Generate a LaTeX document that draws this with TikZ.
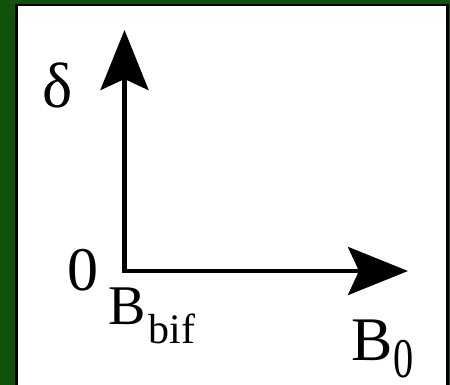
\documentclass[tikz,border=0pt]{standalone}
\usepackage{fontspec}
\setmainfont{Liberation Serif}
\usetikzlibrary{arrows.meta}
\definecolor{framegreen}{RGB}{16,82,12}
\begin{document}
\begin{tikzpicture}[x=1pt,y=-1pt,
  axis/.style={line width=4.5pt,-{Stealth[length=60pt,width=48pt,inset=11pt]}},
  lbl/.style={inner sep=0pt,anchor=base west}]
\useasboundingbox (0,0) rectangle (450,385);
\fill[framegreen] (0,0) rectangle (450,385);
\draw[line width=2.5pt,fill=white] (16.5,5) rectangle (447.5,395);
\coordinate (o) at (124.5,271);
\coordinate (ytip) at (124.5,30);
\coordinate (xtip) at (408,271);
\draw[axis] ([yshift=2.25pt]o) -- (ytip);
\draw[axis] ([xshift=-2.25pt]o) -- (xtip);
\node[lbl,font=\fontsize{64}{70}\selectfont] (delta) at (42,108) {δ};
\node[lbl,font=\fontsize{62}{66}\selectfont] (zero) at (67,290) {0};
\node[lbl,font=\fontsize{56}{60}\selectfont] (bbif) at (108,324) {B\hspace{3pt}\raisebox{-19pt}{\fontsize{42}{46}\selectfont bif}};
\node[lbl,font=\fontsize{62}{66}\selectfont] (bzero) at (351,360) {B\hspace{1pt}\raisebox{-17pt}{\fontsize{56}{60}\selectfont\scalebox{0.72}[1]{0}}};
\end{tikzpicture}
\end{document}
